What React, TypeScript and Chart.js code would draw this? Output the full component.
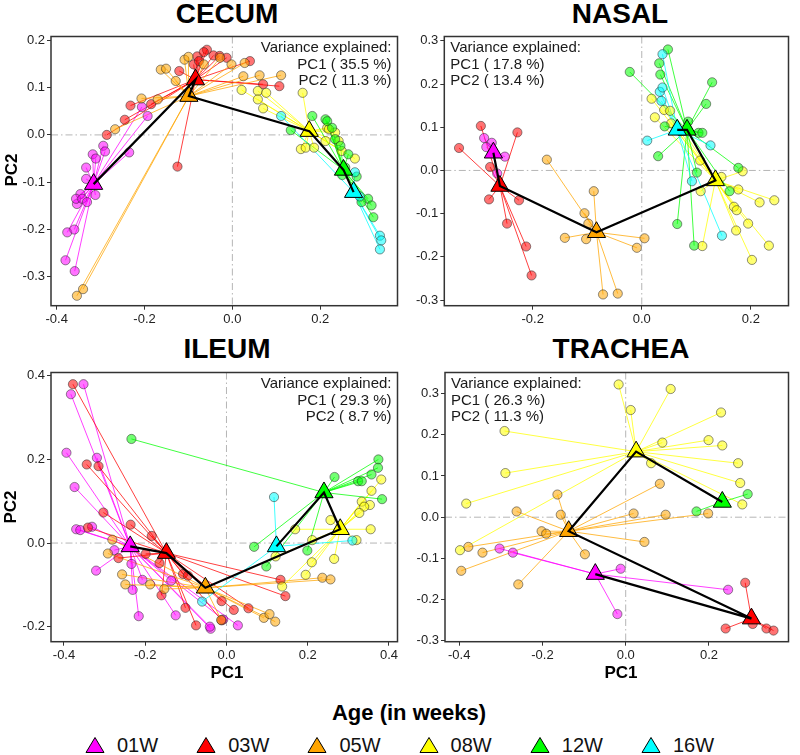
import React, { useEffect, useRef } from "react";
import { Chart, registerables } from "chart.js";
Chart.register(...registerables);

type P = [number, number];

const AGES = ["01W", "03W", "05W", "08W", "12W", "16W"];
const COLORS = ["#FF00FF", "#FF0000", "#FFA500", "#FFFF00", "#00FF00", "#00FFFF"];
const RGB = ["255,0,255", "255,0,0", "255,165,0", "255,255,0", "0,255,0", "0,255,255"];

// ---------- CECUM ----------
const CECUM_CENTROIDS: (P | null)[] = [[-0.316, -0.104], [-0.084, 0.117], [-0.099, 0.082], [0.175, 0.008], [0.253, -0.074], [0.276, -0.121]];
const CECUM_01W: P[] = [[-0.380, -0.265], [-0.359, -0.288], [-0.376, -0.206], [-0.360, -0.200], [-0.354, -0.146], [-0.346, -0.125], [-0.356, -0.135], [-0.342, -0.135], [-0.331, -0.142], [-0.333, -0.069], [-0.333, -0.093], [-0.312, -0.127], [-0.318, -0.041], [-0.311, -0.050], [-0.294, -0.023], [-0.290, -0.035], [-0.235, -0.037], [-0.193, 0.040], [-0.206, 0.059]];
const CECUM_03W: P[] = [[-0.125, -0.067], [-0.286, 0.000], [-0.245, 0.032], [-0.232, 0.062], [-0.185, 0.065], [-0.121, 0.135], [-0.088, 0.149], [-0.058, 0.180], [-0.043, 0.168], [-0.080, 0.166], [-0.076, 0.156], [-0.029, 0.167], [-0.013, 0.163], [0.040, 0.156], [0.070, 0.107], [0.107, 0.103], [-0.065, 0.175]];
const CECUM_05W: P[] = [[-0.354, -0.340], [-0.340, -0.326], [-0.267, 0.012], [-0.207, 0.077], [-0.170, 0.075], [-0.163, 0.138], [-0.151, 0.140], [-0.129, 0.114], [-0.109, 0.159], [-0.065, 0.149], [-0.028, 0.163], [-0.002, 0.149], [0.028, 0.152], [0.025, 0.124], [0.062, 0.126], [0.111, 0.126], [-0.100, 0.165]];
const CECUM_08W: P[] = [[0.021, 0.095], [0.058, 0.093], [0.077, 0.089], [0.058, 0.075], [0.070, 0.056], [0.160, 0.089], [0.156, -0.030], [0.167, -0.027], [0.186, -0.027], [0.216, 0.015], [0.212, -0.013], [0.234, 0.005], [0.249, -0.034], [0.279, -0.050], [0.220, 0.012], [0.242, -0.013]];
const CECUM_12W: P[] = [[0.133, 0.010], [0.182, 0.040], [0.212, 0.033], [0.216, 0.029], [0.227, 0.015], [0.234, -0.009], [0.246, -0.023], [0.264, -0.041], [0.283, -0.088], [0.309, -0.135], [0.317, -0.149], [0.321, -0.174], [0.294, -0.142], [0.250, -0.085], [0.257, -0.069]];
const CECUM_16W: P[] = [[0.111, 0.040], [0.279, -0.079], [0.336, -0.213], [0.339, -0.223], [0.336, -0.242], [0.290, -0.130]];

// ---------- NASAL ----------
const NASAL_CENTROIDS: (P | null)[] = [[-0.272, 0.041], [-0.260, -0.036], [-0.083, -0.143], [0.135, -0.023], [0.083, 0.094], [0.065, 0.094]];
const NASAL_01W: P[] = [[-0.289, 0.075], [-0.275, 0.064], [-0.285, 0.054], [-0.251, 0.032], [-0.265, -0.007]];
const NASAL_03W: P[] = [[-0.295, 0.103], [-0.335, 0.052], [-0.228, 0.088], [-0.278, 0.008], [-0.280, -0.067], [-0.225, -0.069], [-0.247, -0.123], [-0.212, -0.176], [-0.202, -0.243]];
const NASAL_05W: P[] = [[-0.174, 0.025], [-0.088, -0.048], [-0.105, -0.099], [-0.098, -0.123], [-0.141, -0.156], [-0.102, -0.159], [0.005, -0.157], [-0.009, -0.179], [-0.071, -0.287], [-0.044, -0.285]];
const NASAL_08W: P[] = [[0.018, 0.166], [0.024, 0.123], [0.041, 0.140], [0.052, 0.138], [0.054, 0.109], [0.107, 0.023], [0.108, -0.048], [0.146, -0.015], [0.177, -0.044], [0.185, -0.002], [0.216, -0.074], [0.243, -0.069], [0.169, -0.084], [0.174, -0.092], [0.195, -0.123], [0.173, -0.139], [0.233, -0.174], [0.202, -0.207], [0.111, -0.175]];
const NASAL_12W: P[] = [[-0.022, 0.228], [0.032, 0.248], [0.048, 0.280], [0.034, 0.222], [0.129, 0.204], [0.118, 0.154], [0.085, 0.113], [0.042, 0.102], [0.030, 0.033], [0.104, 0.087], [0.111, 0.087], [0.101, -0.005], [0.177, 0.006], [0.161, -0.048], [0.065, -0.124], [0.096, -0.174]];
const NASAL_16W: P[] = [[0.038, 0.269], [0.033, 0.182], [0.038, 0.192], [0.036, 0.161], [0.010, 0.069], [0.126, 0.058], [0.092, -0.025], [0.147, -0.151]];

// ---------- ILEUM ----------
const ILEUM_CENTROIDS: (P | null)[] = [[-0.237, -0.008], [-0.148, -0.024], [-0.052, -0.107], [0.280, 0.033], [0.240, 0.121], [0.123, -0.008]];
const ILEUM_01W: P[] = [[-0.352, 0.380], [-0.383, 0.356], [-0.394, 0.216], [-0.319, 0.204], [-0.374, 0.134], [-0.370, 0.033], [-0.360, 0.031], [-0.331, 0.039], [-0.321, -0.066], [-0.276, -0.017], [-0.234, -0.050], [-0.207, -0.088], [-0.231, -0.112], [-0.136, -0.090], [-0.216, -0.175], [-0.125, -0.173], [-0.039, -0.205], [-0.041, -0.200], [-0.008, -0.183], [0.028, -0.197]];
const ILEUM_03W: P[] = [[-0.378, 0.380], [-0.344, 0.188], [-0.315, 0.184], [-0.303, 0.073], [-0.341, 0.037], [-0.236, 0.044], [-0.184, 0.017], [-0.266, -0.036], [-0.199, -0.026], [-0.165, -0.048], [-0.107, -0.074], [-0.095, -0.078], [-0.160, -0.125], [-0.101, -0.155], [-0.075, -0.197], [-0.012, -0.139], [0.018, -0.160], [0.054, -0.156], [0.133, -0.088], [0.145, -0.127], [-0.012, -0.185]];
const ILEUM_05W: P[] = [[-0.281, 0.008], [-0.292, -0.025], [-0.257, -0.075], [-0.249, -0.099], [-0.188, -0.099], [-0.153, -0.110], [-0.013, -0.184], [0.092, -0.179], [0.106, -0.170], [0.120, -0.188], [0.236, -0.083], [0.256, -0.087]];
const ILEUM_08W: P[] = [[0.381, 0.152], [0.357, 0.125], [0.333, 0.099], [0.353, 0.091], [0.339, 0.087], [0.327, 0.072], [0.355, 0.033], [0.320, 0.007], [0.256, 0.055], [0.211, 0.007], [0.169, 0.033], [0.121, -0.032], [0.210, -0.046], [0.195, -0.076], [0.265, -0.038], [0.137, -0.104]];
const ILEUM_12W: P[] = [[-0.234, 0.249], [0.266, 0.158], [0.374, 0.200], [0.373, 0.180], [0.357, 0.164], [0.324, 0.148], [0.333, 0.148], [0.383, 0.105], [0.068, -0.009], [0.098, -0.056], [0.199, -0.018]];
const ILEUM_16W: P[] = [[0.117, 0.110], [0.310, 0.006], [-0.060, -0.140]];

// ---------- TRACHEA ----------
const TRACHEA_CENTROIDS: (P | null)[] = [[-0.073, -0.138], [0.302, -0.246], [-0.137, -0.034], [0.025, 0.159], [0.232, 0.037], null];
const TRACHEA_01W: P[] = [[-0.303, -0.076], [-0.271, -0.086], [-0.012, -0.125], [0.246, -0.176], [-0.020, -0.235]];
const TRACHEA_03W: P[] = [[0.287, -0.159], [0.240, -0.270], [0.305, -0.259], [0.338, -0.270], [0.355, -0.275]];
const TRACHEA_05W: P[] = [[-0.164, 0.055], [0.082, 0.081], [-0.262, 0.014], [-0.156, 0.006], [0.019, 0.009], [0.096, 0.006], [0.198, 0.009], [-0.202, -0.034], [-0.191, -0.040], [-0.378, -0.072], [-0.344, -0.086], [-0.395, -0.130], [-0.098, -0.090], [0.045, -0.060], [-0.258, -0.163]];
const TRACHEA_08W: P[] = [[-0.017, 0.322], [0.108, 0.311], [0.012, 0.260], [0.229, 0.254], [-0.291, 0.209], [0.088, 0.181], [0.199, 0.187], [0.232, 0.174], [0.061, 0.131], [0.270, 0.131], [-0.289, 0.107], [0.275, 0.083], [0.280, 0.031], [-0.383, 0.033], [-0.398, -0.080]];
const TRACHEA_12W: P[] = [[0.293, 0.056], [0.170, 0.014]];
const TRACHEA_16W: P[] = [];

// ---------- axes / labels ----------
const CECUM_XTICKS = [-0.4, -0.2, 0, 0.2];
const CECUM_YTICKS = [-0.3, -0.2, -0.1, 0, 0.1, 0.2];
const NASAL_XTICKS = [-0.2, 0, 0.2];
const NASAL_YTICKS = [-0.3, -0.2, -0.1, 0, 0.1, 0.2, 0.3];
const ILEUM_XTICKS = [-0.4, -0.2, 0, 0.2, 0.4];
const ILEUM_YTICKS = [-0.2, 0, 0.2, 0.4];
const TRACHEA_XTICKS = [-0.4, -0.2, 0, 0.2];
const TRACHEA_YTICKS = [-0.3, -0.2, -0.1, 0, 0.1, 0.2, 0.3];

const CECUM_VAR = ["Variance explained:", "PC1 ( 35.5 %)", "PC2 ( 11.3 %)"];
const NASAL_VAR = ["Variance explained:", "PC1 ( 17.8 %)", "PC2 ( 13.4 %)"];
const ILEUM_VAR = ["Variance explained:", "PC1 ( 29.3 %)", "PC2 ( 8.7 %)"];
const TRACHEA_VAR = ["Variance explained:", "PC1 ( 26.3 %)", "PC2 ( 11.3 %)"];

const FONT = '"Liberation Sans", Arial, Helvetica, sans-serif';

type PanelCfg = {
  title: string;
  centroids: (P | null)[];
  groups: P[][];
  xticks: number[];
  yticks: number[];
  xr: [number, number];
  yr: [number, number];
  texts: string[];
  align: "left" | "right";
  box: [number, number, number, number];
  padTop: number;
  padRight: number;
  yW: number;
  xH: number;
};

const PANELS: PanelCfg[] = [
  {
    title: "CECUM", centroids: CECUM_CENTROIDS,
    groups: [CECUM_01W, CECUM_03W, CECUM_05W, CECUM_08W, CECUM_12W, CECUM_16W],
    xticks: CECUM_XTICKS, yticks: CECUM_YTICKS, xr: [-0.413, 0.376], yr: [-0.361, 0.208],
    texts: CECUM_VAR, align: "right", box: [0, 25, 409, 311], padTop: 10, padRight: 5.7, yW: 51, xH: 30.3,
  },
  {
    title: "NASAL", centroids: NASAL_CENTROIDS,
    groups: [NASAL_01W, NASAL_03W, NASAL_05W, NASAL_08W, NASAL_12W, NASAL_16W],
    xticks: NASAL_XTICKS, yticks: NASAL_YTICKS, xr: [-0.362, 0.269], yr: [-0.313, 0.31],
    texts: NASAL_VAR, align: "left", box: [404, 25, 396, 311], padTop: 10, padRight: 3.3, yW: 40.3, xH: 30.3,
  },
  {
    title: "ILEUM", centroids: ILEUM_CENTROIDS,
    groups: [ILEUM_01W, ILEUM_03W, ILEUM_05W, ILEUM_08W, ILEUM_12W, ILEUM_16W],
    xticks: ILEUM_XTICKS, yticks: ILEUM_YTICKS, xr: [-0.432, 0.421], yr: [-0.236, 0.408],
    texts: ILEUM_VAR, align: "right", box: [0, 361, 409, 311], padTop: 10.7, padRight: 5.7, yW: 51, xH: 30.3,
  },
  {
    title: "TRACHEA", centroids: TRACHEA_CENTROIDS,
    groups: [TRACHEA_01W, TRACHEA_03W, TRACHEA_05W, TRACHEA_08W, TRACHEA_12W, TRACHEA_16W],
    xticks: TRACHEA_XTICKS, yticks: TRACHEA_YTICKS, xr: [-0.434, 0.391], yr: [-0.302, 0.351],
    texts: TRACHEA_VAR, align: "left", box: [404, 361, 396, 311], padTop: 10.7, padRight: 3.3, yW: 41, xH: 30.3,
  },
];

function buildConfig(cfg: PanelCfg): any {
  const datasets: any[] = [];
  cfg.groups.forEach((pts, g) => {
    const c = cfg.centroids[g];
    if (!c || pts.length === 0) return;
    const seg: any[] = [];
    pts.forEach((p) => {
      seg.push({ x: c[0], y: c[1] });
      seg.push({ x: p[0], y: p[1] });
      seg.push({ x: c[0], y: null });
    });
    datasets.push({
      data: seg, showLine: true, spanGaps: false, pointRadius: 0,
      borderColor: `rgba(${RGB[g]},0.75)`, borderWidth: 1, order: 40 + (5 - g),
    });
    datasets.push({
      data: pts.map((p) => ({ x: p[0], y: p[1] })), showLine: false,
      pointRadius: 4.6, pointBackgroundColor: `rgba(${RGB[g]},0.55)`,
      pointBorderColor: "rgba(40,40,40,0.65)", pointBorderWidth: 0.8, order: 20 + (5 - g),
    });
  });
  const cents: any[] = [];
  const cCols: string[] = [];
  cfg.centroids.forEach((c, g) => {
    if (c) { cents.push({ x: c[0], y: c[1] }); cCols.push(COLORS[g]); }
  });
  datasets.push({
    data: cents, showLine: false, pointStyle: "triangle", pointRadius: 10.5,
    pointBackgroundColor: cCols, pointBorderColor: "#000", pointBorderWidth: 1, order: 5,
  });
  datasets.push({
    data: cents, showLine: true, pointRadius: 0, borderColor: "#000", borderWidth: 2.2, order: 0,
  });

  const deco = {
    id: "deco",
    beforeDatasetsDraw(chart: any) {
      const { ctx, chartArea: a, scales } = chart;
      const x0 = scales.x.getPixelForValue(0);
      const y0 = scales.y.getPixelForValue(0);
      ctx.save();
      ctx.beginPath();
      ctx.rect(a.left, a.top, a.right - a.left, a.bottom - a.top);
      ctx.clip();
      ctx.strokeStyle = "#b5b5b5";
      ctx.lineWidth = 1;
      ctx.setLineDash([7, 3, 1.5, 3]);
      ctx.beginPath();
      ctx.moveTo(x0, a.top); ctx.lineTo(x0, a.bottom);
      ctx.moveTo(a.left, y0); ctx.lineTo(a.right, y0);
      ctx.stroke();
      ctx.restore();
    },
    afterDraw(chart: any) {
      const { ctx, chartArea: a } = chart;
      ctx.save();
      ctx.strokeStyle = "#333";
      ctx.lineWidth = 1.5;
      ctx.strokeRect(a.left, a.top, a.right - a.left, a.bottom - a.top);
      ctx.fillStyle = "#1a1a1a";
      ctx.font = `15px ${FONT}`;
      ctx.textBaseline = "middle";
      ctx.textAlign = cfg.align;
      const tx = cfg.align === "right" ? a.right - 6 : a.left + 6;
      cfg.texts.forEach((t, i) => ctx.fillText(t, tx, a.top + 11.5 + i * 16.6));
      ctx.restore();
    },
  };

  const tickFont = { family: FONT, size: 13 };
  return {
    type: "scatter",
    data: { datasets },
    options: {
      animation: false,
      responsive: false,
      events: [],
      layout: { padding: { top: cfg.padTop, right: cfg.padRight, left: 0, bottom: 0 } },
      plugins: { legend: { display: false }, tooltip: { enabled: false }, title: { display: false } },
      scales: {
        x: {
          type: "linear", min: cfg.xr[0], max: cfg.xr[1],
          afterBuildTicks: (s: any) => { s.ticks = cfg.xticks.map((v) => ({ value: v })); },
          afterFit: (s: any) => { s.height = cfg.xH; },
          ticks: { callback: (v: any) => Number(v).toFixed(1), font: tickFont, color: "#222", padding: 2, maxRotation: 0, autoSkip: false },
          grid: { drawOnChartArea: false, drawTicks: true, tickLength: 4, tickColor: "#333", tickWidth: 1 },
          border: { display: false },
        },
        y: {
          type: "linear", min: cfg.yr[0], max: cfg.yr[1],
          afterBuildTicks: (s: any) => { s.ticks = cfg.yticks.map((v) => ({ value: v })); },
          afterFit: (s: any) => { s.width = cfg.yW; },
          ticks: { callback: (v: any) => Number(v).toFixed(1), font: tickFont, color: "#222", padding: 2, autoSkip: false },
          grid: { drawOnChartArea: false, drawTicks: true, tickLength: 4, tickColor: "#333", tickWidth: 1 },
          border: { display: false },
        },
      },
    },
    plugins: [deco],
  };
}

function Panel({ cfg }: { cfg: PanelCfg }) {
  const ref = useRef<HTMLCanvasElement>(null);
  useEffect(() => {
    const chart = new Chart(ref.current as HTMLCanvasElement, buildConfig(cfg));
    return () => chart.destroy();
  }, []);
  const [l, t, w, h] = cfg.box;
  return (
    <canvas ref={ref} width={w} height={h}
      style={{ position: "absolute", left: l, top: t, width: w, height: h }} />
  );
}

const abs = (o: any) => ({ position: "absolute" as const, ...o });

export default function App() {
  const titleStyle = { fontFamily: FONT, fontWeight: 700, fontSize: 28, lineHeight: "28px", textAlign: "center" as const, color: "#000", whiteSpace: "nowrap" as const };
  const axisStyle = { fontFamily: FONT, fontWeight: 700, fontSize: 17, lineHeight: "17px", color: "#000", whiteSpace: "nowrap" as const };
  return (
    <div style={abs({ left: 0, top: 0, width: 800, height: 755, background: "#fff", overflow: "hidden" })}>
      <div style={abs({ left: 51, top: 0, width: 352, ...titleStyle })}>CECUM</div>
      <div style={abs({ left: 444, top: 0, width: 352, ...titleStyle })}>NASAL</div>
      <div style={abs({ left: 51, top: 334.5, width: 352, ...titleStyle })}>ILEUM</div>
      <div style={abs({ left: 445, top: 334.5, width: 352, ...titleStyle })}>TRACHEA</div>

      {PANELS.map((p) => <Panel key={p.title} cfg={p} />)}

      <div style={abs({ left: 11, top: 170, transform: "translate(-50%,-50%) rotate(-90deg)", ...axisStyle })}>PC2</div>
      <div style={abs({ left: 10, top: 507, transform: "translate(-50%,-50%) rotate(-90deg)", ...axisStyle })}>PC2</div>
      <div style={abs({ left: 227, top: 672, transform: "translate(-50%,-50%)", ...axisStyle })}>PC1</div>
      <div style={abs({ left: 621, top: 672, transform: "translate(-50%,-50%)", ...axisStyle })}>PC1</div>

      <div style={abs({ left: 0, top: 702, width: 800, textAlign: "center", fontFamily: FONT, fontWeight: 700, fontSize: 22, lineHeight: "22px", color: "#000" })}>
        <span style={{ marginLeft: 18 }}>Age (in weeks)</span>
      </div>
      {AGES.map((a, i) => (
        <div key={a} style={abs({ left: 85 + i * 111.2, top: 735, height: 20, display: "flex", alignItems: "center" })}>
          <svg width={20} height={18} style={{ display: "block" }}>
            <polygon points="10,1.5 19,16.5 1,16.5" fill={COLORS[i]} stroke="#000" strokeWidth={1} />
          </svg>
          <span style={{ marginLeft: 12, fontFamily: FONT, fontSize: 20, lineHeight: "20px", color: "#111" }}>{a}</span>
        </div>
      ))}
    </div>
  );
}
